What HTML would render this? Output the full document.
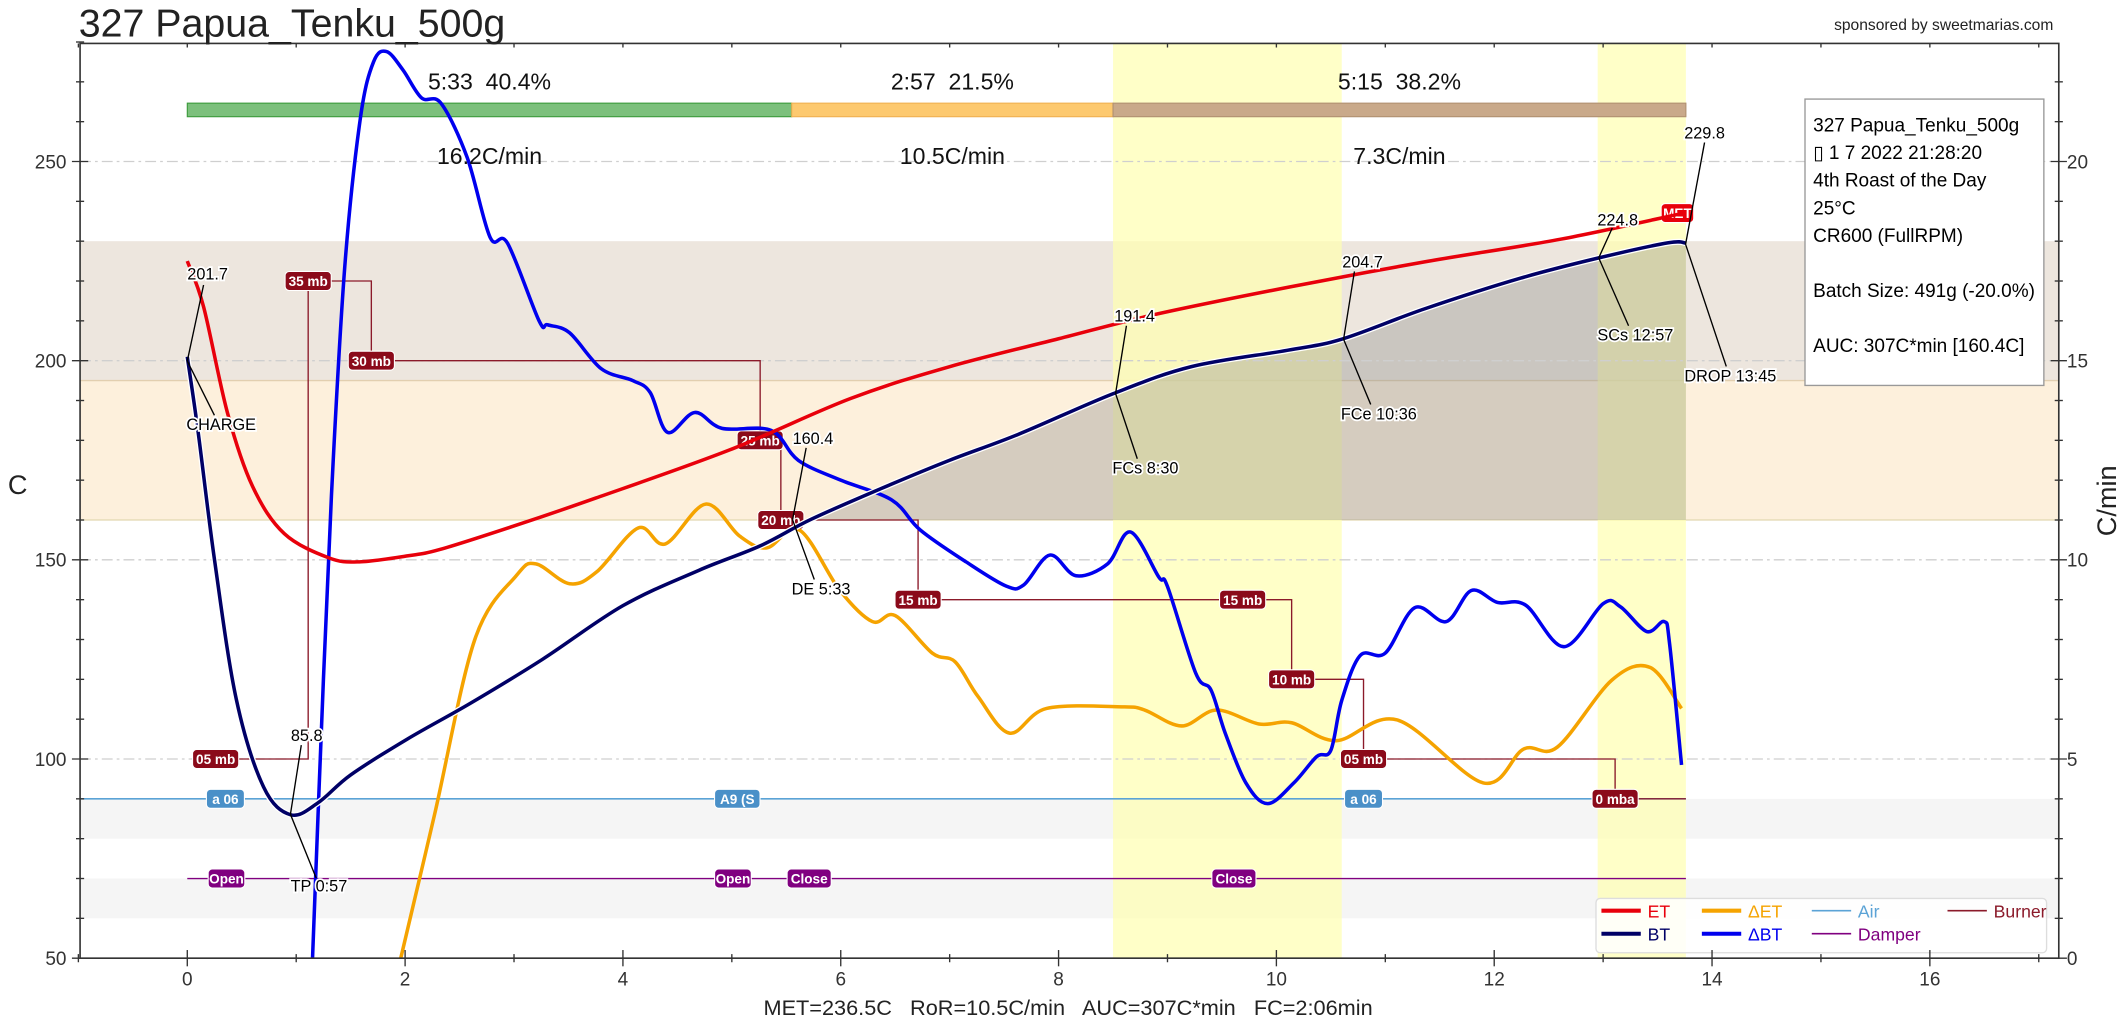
<!DOCTYPE html>
<html><head><meta charset="utf-8"><style>
html,body{margin:0;padding:0;background:#fff;}
svg{display:block;font-family:"Liberation Sans","DejaVu Sans",sans-serif;}
text{white-space:pre;}
</style></head><body>
<svg id="chart" width="2128" height="1024" viewBox="0 0 1568 754.5" preserveAspectRatio="none" xmlns="http://www.w3.org/2000/svg">
<g id="bg"></g><g id="grid"></g><g id="events"></g><g id="series"></g><g id="annot"></g><g id="axes"></g>
</svg>
<script>
// ---- data ----
const btTime=[0,0.1,0.25,0.45,0.7,0.95,1.2,1.5,2.02,2.6,3.26,4.0,4.7,5.26,5.73,6.38,7.0,7.63,8.5,9.22,10.1,10.6,11.36,12.24,12.96,13.6,13.76];
const btTemp=[201,182,150,115,93,86,89,96,105,114,125,138.5,147.4,153.5,160.2,168,175,181.5,191.7,198.5,202.6,205.4,213,220.7,225.8,229.6,229.5];
const etTime=[0,0.15,0.37,0.6,0.89,1.3,1.58,2.02,2.32,3.0,3.75,4.98,6.09,7.0,8.0,8.87,10.12,11.36,12.61,13.73];
const etTemp=[225,213.5,186.8,168.4,156.6,150.5,149.5,151,152.6,158.5,165.5,177.6,190.5,198.5,205.5,211.5,218.5,224.8,230.5,237];
const dbtTime=[1.15,1.25,1.34,1.45,1.59,1.71,1.83,1.98,2.15,2.33,2.57,2.78,2.94,3.23,3.31,3.51,3.8,4.09,4.25,4.41,4.66,4.91,5.36,5.61,6.0,6.47,6.73,7.15,7.52,7.68,7.92,8.16,8.45,8.66,8.92,9.0,9.26,9.4,9.53,9.72,9.92,10.16,10.37,10.5,10.6,10.77,11.0,11.27,11.56,11.79,12.03,12.29,12.64,13.0,13.16,13.4,13.56,13.61,13.72];
const dbtRor=[0,7,12.5,17.5,21.1,22.5,22.76,22.3,21.6,21.46,20.1,18.1,17.95,16.0,15.9,15.7,14.8,14.5,14.2,13.2,13.7,13.3,13.25,12.5,12.0,11.5,10.75,9.95,9.34,9.37,10.12,9.6,9.9,10.7,9.57,9.33,7.15,6.73,5.65,4.4,3.88,4.4,5.06,5.22,6.47,7.6,7.66,8.8,8.45,9.23,8.93,8.86,7.82,8.9,8.82,8.2,8.45,7.9,4.85];
const detTime=[1.96,2.27,2.64,3.02,3.2,3.51,3.76,4.14,4.39,4.76,5.07,5.32,5.62,5.99,6.29,6.5,6.84,7.05,7.26,7.55,7.89,8.58,8.79,9.13,9.45,9.84,10.14,10.55,11.11,11.9,12.27,12.58,13.08,13.43,13.72];
const detRor=[0,3.6,8.0,9.6,9.9,9.4,9.7,10.8,10.4,11.4,10.6,10.3,10.75,9.24,8.45,8.6,7.66,7.44,6.57,5.65,6.27,6.31,6.23,5.83,6.23,5.88,5.91,5.46,5.98,4.4,5.25,5.3,6.98,7.3,6.27];
const burnerTime=[0.36,1.11,1.69,5.26,5.45,6.71,9.69,10.14,10.80,13.11];
const burnerLabel=["05 mb","35 mb","30 mb","25 mb","20 mb","15 mb","15 mb","10 mb","05 mb","0 mba"];
const burnerPos=[100,220,200,180,160,140,140,120,100,90];
const airTime=[0.35,5.05,10.8];
const airLabel=["a 06","A9 (S","a 06"];
const damperTime=[0.36,5.01,5.71,9.61];
const damperLabel=["Open","Open","Close","Close"];
const xTicks=[0,2,4,6,8,10,12,14,16];
const yTicks=[50,100,150,200,250];
const rTicks=[0,5,10,15,20];
const phaseStart=[0,5.55,8.5];
const phaseEnd=[5.55,8.5,13.76];
const phaseTop=["5:33  40.4%","2:57  21.5%","5:15  38.2%"];
const phaseRate=["16.2C/min","10.5C/min","7.3C/min"];

// ---- scales ----
const X=t=>138+80.25*t, Y=v=>119+(250-v)*2.935, R=r=>706-r*29.35;
const L=59,Rt=1517,T=32,B=706;
const NS="http://www.w3.org/2000/svg";
function mk(p,tag,at,txt){const e=document.createElementNS(NS,tag);for(const k in at)e.setAttribute(k,at[k]);if(txt!=null)e.textContent=txt;document.getElementById(p).appendChild(e);return e;}
function smooth(pts){let d="M"+pts[0][0]+","+pts[0][1];for(let i=0;i<pts.length-1;i++){const p0=pts[i-1]||pts[i],p1=pts[i],p2=pts[i+1],p3=pts[i+2]||p2;d+=" C"+(p1[0]+(p2[0]-p0[0])/6)+","+(p1[1]+(p2[1]-p0[1])/6)+" "+(p2[0]-(p3[0]-p1[0])/6)+","+(p2[1]-(p3[1]-p1[1])/6)+" "+p2[0]+","+p2[1];}return d;}
function clipY(y){return Math.max(T,Math.min(B+5,y));}

let e;
e=mk("bg","rect",{x:L,y:Y(230),width:Rt-L,height:Y(195)-Y(230),fill:"#ede6de"});
e=mk("bg","rect",{x:L,y:Y(195),width:Rt-L,height:Y(160)-Y(195),fill:"#fdf0dc"});
mk("bg","line",{x1:L,x2:Rt,y1:Y(195),y2:Y(195),stroke:"#e2cfb0","stroke-width":1});
mk("bg","line",{x1:L,x2:Rt,y1:Y(160),y2:Y(160),stroke:"#e2d8b0","stroke-width":1});
e=mk("bg","rect",{x:L,y:Y(90),width:Rt-L,height:Y(80)-Y(90),fill:"#f5f5f5"});
e=mk("bg","rect",{x:L,y:Y(70),width:Rt-L,height:Y(60)-Y(70),fill:"#f5f5f5"});
e=mk("bg","rect",{x:X(8.5),y:T,width:X(10.6)-X(8.5),height:B-T,fill:"#ffffb0","fill-opacity":0.7});
e=mk("bg","rect",{x:X(12.95),y:T,width:X(13.76)-X(12.95),height:B-T,fill:"#ffffb0","fill-opacity":0.7});
{let pts=[];btTime.forEach((t,i)=>{if(t>=5.73)pts.push([X(t),Y(btTemp[i])]);});
 let d=smooth(pts)+" L"+X(13.76)+","+Y(160)+" L"+X(5.73)+","+Y(160)+" Z";
 e=mk("bg","path",{d:d,fill:"#8a8a8a","fill-opacity":0.35});}
yTicks.slice(1).forEach(v=>{mk("grid","line",{x1:L,x2:Rt,y1:Y(v),y2:Y(v),stroke:"#cfcfcf","stroke-width":1,"stroke-dasharray":"8,3,2,3"});});
const phaseCol=["#7cc07c","#fdc96f","#c9a98a"];
phaseStart.forEach((s,i)=>{
 e=mk("bg","rect",{x:X(s),y:76,width:X(phaseEnd[i])-X(s),height:10,fill:phaseCol[i],stroke:i==0?"#3a9a3a":(i==1?"#f0b050":"#b09070"),"stroke-width":0.8});
 const cx=(X(s)+X(phaseEnd[i]))/2;
 e=mk("annot","text",{x:cx,y:66,"text-anchor":"middle","font-size":17,fill:"#111"},phaseTop[i]);
 e=mk("annot","text",{x:cx,y:121,"text-anchor":"middle","font-size":17,fill:"#111"},phaseRate[i]);
});
e=mk("events","line",{x1:L,x2:X(13.76),y1:Y(90),y2:Y(90),stroke:"#5ba3d6","stroke-width":1.2});
e=mk("events","line",{x1:X(0),x2:X(13.76),y1:Y(70),y2:Y(70),stroke:"#800080","stroke-width":1});
{let d="";burnerTime.forEach((t,i)=>{const x=X(t),y=Y(burnerPos[i]);if(i==0)d="M"+x+","+y;else d+=" H"+x+" V"+y;});d+=" H"+X(13.76);
 e=mk("events","path",{d:d,fill:"none",stroke:"#8b1a2a","stroke-width":1});}
function line(tArr,vArr,sc,col,w,name){const pts=tArr.map((t,i)=>[X(t),clipY(sc(vArr[i]))]);e=mk("series","path",{d:smooth(pts),fill:"none",stroke:col,"stroke-width":w,"stroke-linejoin":"round"});}
line(detTime,detRor,R,"#f5a300",2.6,"delta-et-line");
line(dbtTime,dbtRor,R,"#0000ee",2.6,"delta-bt-line");
line(etTime,etTemp,Y,"#e8000b",2.6,"et-line");
{const pts=btTime.map((t,i)=>[X(t),Y(btTemp[i])]);mk("series","path",{d:smooth(pts),fill:"none",stroke:"#fff","stroke-width":4.5});}
line(btTime,btTemp,Y,"#000066",2.6,"bt-line");
function box(cx,cy,txt,fill,name,w){e=mk("events","rect",{x:cx-(w/2),y:cy-7,width:w,height:14,rx:3,fill:fill,stroke:"#fff","stroke-width":0.8});
 e=mk("events","text",{x:cx,y:cy+3.8,"text-anchor":"middle","font-size":10,"font-weight":"bold",fill:"#fff"},txt);}
burnerTime.forEach((t,i)=>{box(X(t)+(i==0?-8:0),Y(burnerPos[i]),burnerLabel[i],"#8b0a1a","burner-event-"+(i+1),burnerLabel[i].length*6+4);});
airTime.forEach((t,i)=>box(X(t),Y(90),airLabel[i],"#4a90c8","air-event-"+(i+1),airLabel[i].length*5.5+6));
damperTime.forEach((t,i)=>box(X(t),Y(70),damperLabel[i],"#800080","damper-event-"+(i+1),damperLabel[i].length*5.5+5));
box(1236,157,"MET","#e8000b","met-marker",24);
const ann=[[138,266,150,210,"201.7",153,206],[138,266,158,306,"CHARGE",163,317],[214,600,222,549,"85.8",226,546],[214,600,233,647,"TP 0:57",235,657],[584,383,594,330,"160.4",599,327],[584,383,600,427,"DE 5:33",605,438],[822,290,830,240,"191.4",836,237],[822,290,838,338,"FCs 8:30",844,349],[990,250,998,200,"204.7",1004,197],[990,250,1010,298,"FCe 10:36",1016,309],[1178,190,1188,168,"224.8",1192,166],[1178,190,1200,240,"SCs 12:57",1205,251],[1242,180,1256,105,"229.8",1256,102],[1242,180,1272,270,"DROP 13:45",1275,281]];
ann.forEach((a,i)=>{mk("annot","line",{x1:a[0],y1:a[1],x2:a[2],y2:a[3],stroke:"#000","stroke-width":1});
 e=mk("annot","text",{x:a[5],y:a[6],"text-anchor":"middle","font-size":12,fill:"#000",stroke:"#fff","stroke-width":2.5,"paint-order":"stroke"},a[4]);});
e=mk("annot","rect",{x:1330,y:73,width:176,height:211,fill:"#fff",stroke:"#999","stroke-width":1});
["327 Papua_Tenku_500g","\u25AF 1 7 2022 21:28:20","4th Roast of the Day","25°C","CR600 (FullRPM)","","Batch Size: 491g (-20.0%)","","AUC: 307C*min [160.4C]"].forEach((s,i)=>{if(s){e=mk("annot","text",{x:1336,y:97+i*20.3,"font-size":14,fill:"#000"},s);}});
e=mk("annot","rect",{x:1176,y:662,width:332,height:40,rx:3,fill:"#fff","fill-opacity":0.85,stroke:"#ddd"});
const leg=[["ET","#e8000b",1180,676,3],["BT","#000066",1180,693,3],["\u0394ET","#f5a300",1254,676,3],["\u0394BT","#0000ee",1254,693,3],["Air","#5ba3d6",1335,676,1.2],["Damper","#800080",1335,693,1.2],["Burner","#8b1a2a",1435,676,1.2]];
leg.forEach(l=>{mk("annot","line",{x1:l[2],x2:l[2]+29,y1:l[3]-5,y2:l[3]-5,stroke:l[1],"stroke-width":l[4]});
 e=mk("annot","text",{x:l[2]+34,y:l[3],"font-size":13,fill:l[1]},l[0]);});
mk("axes","rect",{x:L,y:T,width:Rt-L,height:B-T,fill:"none",stroke:"#333","stroke-width":1.2});
for(let v=50;v<=280;v+=10){const maj=v%50==0;mk("axes","line",{x1:L-(maj?6:3),x2:L+(maj?6:3),y1:Y(v),y2:Y(v),stroke:"#333","stroke-width":1});}
yTicks.forEach(v=>{e=mk("axes","text",{x:49,y:Y(v)+5,"text-anchor":"end","font-size":14,fill:"#333"},v);});
for(let r=0;r<=22;r++){const maj=r%5==0;mk("axes","line",{x1:Rt-(maj?6:3),x2:Rt+(maj?6:3),y1:R(r),y2:R(r),stroke:"#333","stroke-width":1});}
rTicks.forEach(r=>{e=mk("axes","text",{x:1523,y:R(r)+5,"font-size":14,fill:"#333"},r);});
for(let t=-1;t<=17;t++){const maj=t%2==0;mk("axes","line",{x1:X(t),x2:X(t),y1:B-(maj?6:3),y2:B+(maj?6:3),stroke:"#333","stroke-width":1});mk("axes","line",{x1:X(t),x2:X(t),y1:T,y2:T+3,stroke:"#333","stroke-width":1});}
xTicks.forEach(t=>{e=mk("axes","text",{x:X(t),y:726,"text-anchor":"middle","font-size":14,fill:"#333"},t);});
e=mk("axes","text",{x:787,y:748,"text-anchor":"middle","font-size":16,fill:"#222"},"MET=236.5C   RoR=10.5C/min   AUC=307C*min   FC=2:06min");
e=mk("axes","text",{x:13,y:364,"text-anchor":"middle","font-size":20,fill:"#222"},"C");
e=mk("axes","text",{x:1559,y:369,"text-anchor":"middle","font-size":20,fill:"#222",transform:"rotate(-90 1559 369)"},"C/min");
e=mk("axes","text",{x:58,y:27,"font-size":29,fill:"#222"},"327 Papua_Tenku_500g");
e=mk("axes","text",{x:1513,y:22,"text-anchor":"end","font-size":11.5,fill:"#222"},"sponsored by sweetmarias.com");
</script>
</body></html>
